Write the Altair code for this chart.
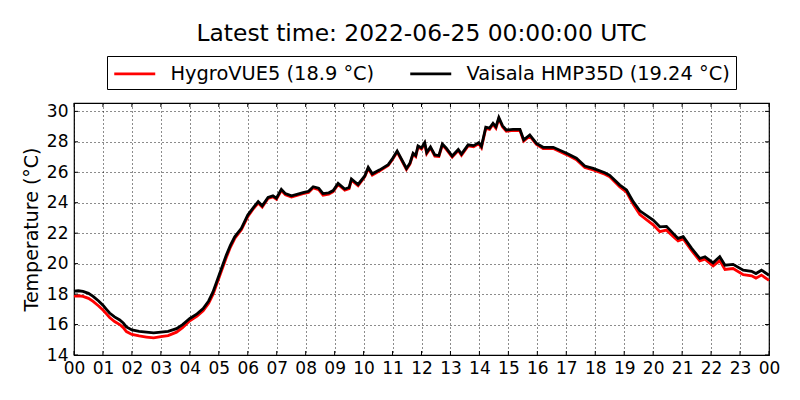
import altair as alt
import pandas as pd

# ---- data ----
hours = [0.0, 0.15, 0.31, 0.5, 0.66, 0.85, 1.0, 1.12, 1.23, 1.4, 1.58, 1.7, 1.81, 2.0, 2.25, 2.5,
         2.75, 3.0, 3.25, 3.54, 3.75, 4.0, 4.25, 4.46, 4.65, 4.8, 5.03, 5.26, 5.4, 5.55, 5.78, 6.0,
         6.2, 6.36, 6.5, 6.7, 6.87, 6.99, 7.16, 7.3, 7.51, 7.7, 7.91, 8.1, 8.26, 8.45, 8.6, 8.8,
         8.95, 9.12, 9.35, 9.5, 9.58, 9.81, 10.04, 10.16, 10.3, 10.56, 10.85, 11.0, 11.16, 11.3,
         11.48, 11.6, 11.71, 11.8, 11.88, 12.0, 12.11, 12.18, 12.31, 12.46, 12.6, 12.72, 12.85,
         13.06, 13.27, 13.38, 13.61, 13.8, 13.98, 14.07, 14.22, 14.35, 14.47, 14.57, 14.67, 14.8,
         14.93, 15.16, 15.4, 15.53, 15.74, 15.97, 16.2, 16.55, 17.01, 17.35, 17.64, 17.93, 18.33,
         18.5, 18.85, 19.08, 19.31, 19.54, 20.0, 20.23, 20.46, 20.69, 20.86, 21.04, 21.33, 21.61,
         21.79, 22.07, 22.3, 22.48, 22.76, 23.11, 23.4, 23.55, 23.74, 24.0]

vaisala = [18.2, 18.22, 18.18, 18.05, 17.85, 17.55, 17.27, 17.0, 16.76, 16.5, 16.3, 16.1, 15.84,
           15.65, 15.55, 15.5, 15.45, 15.5, 15.55, 15.73, 16.0, 16.4, 16.7, 17.05, 17.55, 18.14,
           19.35, 20.56, 21.2, 21.76, 22.32, 23.19, 23.7, 24.07, 23.8, 24.35, 24.45, 24.3, 24.88,
           24.6, 24.45, 24.55, 24.66, 24.75, 25.05, 24.95, 24.6, 24.65, 24.8, 25.27, 24.9, 25.0,
           25.56, 25.2, 25.76, 26.33, 25.9, 26.16, 26.5, 26.9, 27.4, 26.9, 26.25, 26.6, 27.25,
           27.1, 27.73, 27.6, 27.95, 27.3, 27.67, 27.14, 27.1, 27.86, 27.6, 27.07, 27.5, 27.2,
           27.8, 27.75, 27.95, 27.7, 28.96, 28.9, 29.22, 28.98, 29.6, 29.05, 28.78, 28.82, 28.82,
           28.13, 28.45, 27.9, 27.64, 27.64, 27.25, 26.92, 26.41, 26.26, 25.97, 25.8, 25.16, 24.84,
           24.07, 23.47, 22.86, 22.42, 22.45, 21.99, 21.66, 21.77, 21.0, 20.34, 20.45, 20.05,
           20.45, 19.9, 19.95, 19.57, 19.5, 19.35, 19.57, 19.24]

hygrovue = [17.87, 17.89, 17.85, 17.72, 17.52, 17.22, 16.95, 16.7, 16.46, 16.2, 16.0, 15.8, 15.54,
            15.35, 15.25, 15.18, 15.12, 15.2, 15.27, 15.5, 15.8, 16.25, 16.55, 16.9, 17.4, 17.98,
            19.18, 20.4, 21.07, 21.65, 22.22, 23.08, 23.62, 23.98, 23.72, 24.28, 24.38, 24.23,
            24.8, 24.52, 24.38, 24.48, 24.6, 24.68, 24.98, 24.86, 24.5, 24.56, 24.72, 25.2, 24.82,
            24.93, 25.48, 25.12, 25.7, 26.25, 25.82, 26.1, 26.44, 26.84, 27.33, 26.84, 26.18,
            26.53, 27.18, 27.03, 27.66, 27.53, 27.88, 27.22, 27.6, 27.06, 27.03, 27.79, 27.52,
            27.0, 27.43, 27.12, 27.73, 27.68, 27.88, 27.62, 28.88, 28.82, 29.15, 28.9, 29.52,
            28.97, 28.7, 28.75, 28.74, 28.05, 28.38, 27.83, 27.56, 27.56, 27.16, 26.83, 26.31,
            26.16, 25.87, 25.7, 25.04, 24.7, 23.9, 23.22, 22.55, 22.1, 22.2, 21.78, 21.5, 21.62,
            20.85, 20.18, 20.3, 19.85, 20.2, 19.62, 19.68, 19.28, 19.2, 19.05, 19.25, 18.9]

series_names = ["HygroVUE5 (18.9 °C)", "Vaisala HMP35D (19.24 °C)"]
series_colors = ["#ff0000", "#000000"]
x_ticks = list(range(0, 25))
y_ticks = [14, 16, 18, 20, 22, 24, 26, 28, 30]
title_text = "Latest time: 2022-06-25 00:00:00 UTC"
y_title = "Temperature (°C)"

df = pd.concat([
    pd.DataFrame({"h": hours, "t": hygrovue, "s": series_names[0]}),
    pd.DataFrame({"h": hours, "t": vaisala, "s": series_names[1]}),
], ignore_index=True)

W, H = 695, 252
FONT = "DejaVu Sans"

xs = alt.Scale(domain=[0, 24], nice=False, zero=False)
ys = alt.Scale(domain=[14, 30.55], nice=False, zero=False)

xaxis = alt.Axis(values=x_ticks, ticks=False, labelOverlap=False,
                 labelExpr="(datum.value % 24) < 10 ? '0' + (datum.value % 24) : '' + (datum.value % 24)",
                 labelFontSize=17, labelPadding=5, labelColor="black", domain=False,
                 grid=True, gridColor="black", gridDash=[1, 3], gridOpacity=0.9,
                 labelFlush=False, title=None)
yaxis = alt.Axis(values=y_ticks, ticks=False, labelFontSize=17, labelPadding=6,
                 labelColor="black", domain=False, grid=True, gridColor="black",
                 gridDash=[1, 3], gridOpacity=0.9, titleFontSize=19,
                 titleFontWeight="normal", titleColor="black", titlePadding=5, title=y_title)

lines = alt.Chart(df).mark_line(strokeWidth=2.8).encode(
    x=alt.X("h:Q", scale=xs, axis=xaxis, title=None),
    y=alt.Y("t:Q", scale=ys, axis=yaxis, title=y_title),
    color=alt.Color("s:N", scale=alt.Scale(domain=series_names, range=series_colors),
                    legend=alt.Legend(orient="none", legendX=33, legendY=-47, direction="horizontal",
                                      title=None, strokeColor="black", fillColor="white",
                                      padding=5.5, symbolType="M-1,0H3", symbolSize=420,
                                      symbolStrokeWidth=2.8, labelFontSize=19.4, labelFont=FONT,
                                      labelColor="black", columnPadding=30, labelOffset=34,
                                      cornerRadius=0, labelLimit=400)),
)

ytick_df = pd.DataFrame({"v": y_ticks})
xtick_df = pd.DataFrame({"v": x_ticks})

yl = alt.Chart(ytick_df).mark_rule(color="black", strokeWidth=1).encode(
    y=alt.Y("v:Q", scale=ys, axis=yaxis, title=y_title), x=alt.value(0), x2=alt.value(4))
yr = alt.Chart(ytick_df).mark_rule(color="black", strokeWidth=1).encode(
    y=alt.Y("v:Q", scale=ys, axis=yaxis, title=y_title), x=alt.value(W - 4), x2=alt.value(W))
xb = alt.Chart(xtick_df).mark_rule(color="black", strokeWidth=1).encode(
    x=alt.X("v:Q", scale=xs, axis=xaxis, title=None), y=alt.value(H - 4), y2=alt.value(H))
xt = alt.Chart(xtick_df).mark_rule(color="black", strokeWidth=1).encode(
    x=alt.X("v:Q", scale=xs, axis=xaxis, title=None), y=alt.value(0), y2=alt.value(4))

chart = alt.layer(lines, yl, yr, xb, xt).properties(
    width=W, height=H,
    title=alt.TitleParams(title_text, fontSize=23.4, font=FONT, fontWeight="normal",
                          color="black", anchor="middle", offset=9),
    autosize=alt.AutoSizeParams(type="none"),
    padding={"left": 66, "top": 95, "right": 23, "bottom": 37},
).configure(font=FONT, background="white").configure_view(
    stroke="black", strokeWidth=1.2
).configure_axis(labelFont=FONT, titleFont=FONT)

chart.save("out.html", embed_options={"renderer": "svg", "actions": False})
